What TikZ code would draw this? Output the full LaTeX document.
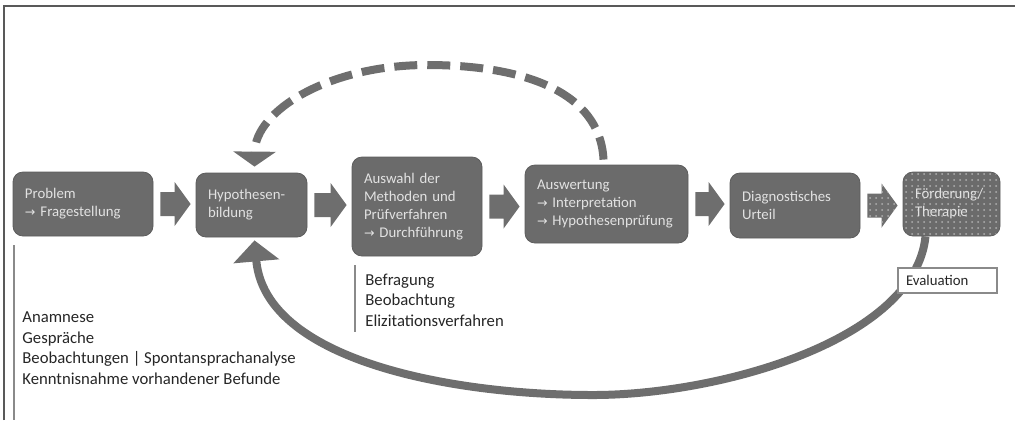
\documentclass[tikz,border=0pt]{standalone}
\usepackage{fontspec}
\setmainfont{Carlito}
\newfontfamily\arrowfont{DejaVu Sans}[Scale=0.85]
\usetikzlibrary{calc,patterns,arrows.meta}

\definecolor{boxgray}{HTML}{6B6B6B}
\definecolor{boxline}{HTML}{5C5C5C}
\definecolor{boxtext}{HTML}{E2E2E2}
\definecolor{dotgray}{HTML}{B0B0B0}
\definecolor{flowgray}{HTML}{6E6E6E}
\definecolor{notegray}{HTML}{262626}
\definecolor{rulegray}{HTML}{8A8A8A}
\definecolor{framegray}{HTML}{595959}

\newcommand{\thento}{{\arrowfont →}\ }
% block arrow between two stages
\newcommand{\flowarrow}[3][fill=flowgray]{%
  \path[#1] ($(#2.east)+(7,-12)$) -- ($(#3.west |- #2.east)+(-21,-12)$)
    -- ($(#3.west |- #2.east)+(-21,-22)$) -- ($(#3.west |- #2.east)+(-5,0)$)
    -- ($(#3.west |- #2.east)+(-21,22)$) -- ($(#3.west |- #2.east)+(-21,12)$)
    -- ($(#2.east)+(7,12)$) -- cycle;}

\begin{document}
\begin{tikzpicture}[x=0.5pt,y=-0.5pt,
  stage/.style 2 args={rounded corners=5pt, fill=boxgray, draw=boxline, line width=0.4pt,
    text=boxtext, align=left, inner xsep=6pt, text width=#1, minimum height=#2,
    font=\fontsize{7.4}{9}\selectfont},
  dotfill/.style={postaction={pattern=dots, pattern color=dotgray}},
  note/.style={anchor=west, align=left, text=notegray, inner sep=0pt,
    font=\fontsize{8.35}{10.25}\selectfont},
  rule/.style={draw=rulegray, line width=1pt},
  loopback/.style={draw=flowgray, line width=4pt, -{Triangle[width=22.5pt,length=10.5pt]}},
  recheck/.style={draw=flowgray, line width=4pt, dash pattern=on 11.5pt off 5pt,
    -{Triangle[width=21pt,length=7.5pt]}},
  evalbox/.style={draw=rulegray, fill=white, line width=0.8pt, text=notegray, align=left,
    inner xsep=4pt, text width=41.5pt, minimum height=12.5pt, font=\fontsize{7.4}{8.5}\selectfont}]
    \useasboundingbox (0,0) rectangle (1015,420);
    \draw[framegray, line width=1pt] (4,420) -- (4,6) -- (1015,6);

    % stages
    \node[stage={58pt}{32pt}] (prob) at (83,204) {Problem\\\thento Fragestellung};
    \node[stage={43.5pt}{32pt}] (hyp) at (251.5,205) {Hypothesen-\\bildung};
    \node[stage={53pt}{49.5pt}] (meth) at (417,206.5) {Auswahl der\\Methoden und\\Prüfverfahren\\\thento Durchführung};
    \node[stage={69.5pt}{39pt}] (ausw) at (606.5,204) {Auswertung\\\thento Interpretation\\\thento Hypothesenprüfung};
    \node[stage={53pt}{32.5pt}] (diag) at (795,205.5) {Diagnostisches\\Urteil};
    \node[stage={36.5pt}{32pt}, dotfill] (foer) at (951.5,204) {Förderung/\\Therapie};

    \flowarrow{prob}{hyp}
    \flowarrow{hyp}{meth}
    \flowarrow{meth}{ausw}
    \flowarrow{ausw}{diag}
    \flowarrow[fill=flowgray, dotfill]{diag}{foer}

    % feedback loops
    \draw[recheck] ($(ausw.north)+(-3,-5)$) .. controls (600,90) and (520,65) .. (427,65)
        .. controls (330,65) and (255,110) .. ($(hyp.north)+(3,-6)$);
    \draw[loopback] ($(foer.south)+(-26,0)$) .. controls (915,340) and (720,395) .. (593,395)
        .. controls (450,395) and (265,360) .. ($(hyp.south)+(3,3)$);
    \node[evalbox] (eval) at (947.5,280.5) {Evaluation};

    % methods and sources
    \draw[rule] (14,245) -- (14,420);
    \node[note] (sources) at (22,348) {Anamnese\\Gespräche\\Beobachtungen | Spontansprachanalyse\\Kenntnisnahme vorhandener Befunde};
    \draw[rule] (355,265) -- (355,332);
    \node[note] (methods) at (365,300) {Befragung\\Beobachtung\\Elizitationsverfahren};
\end{tikzpicture}
\end{document}
